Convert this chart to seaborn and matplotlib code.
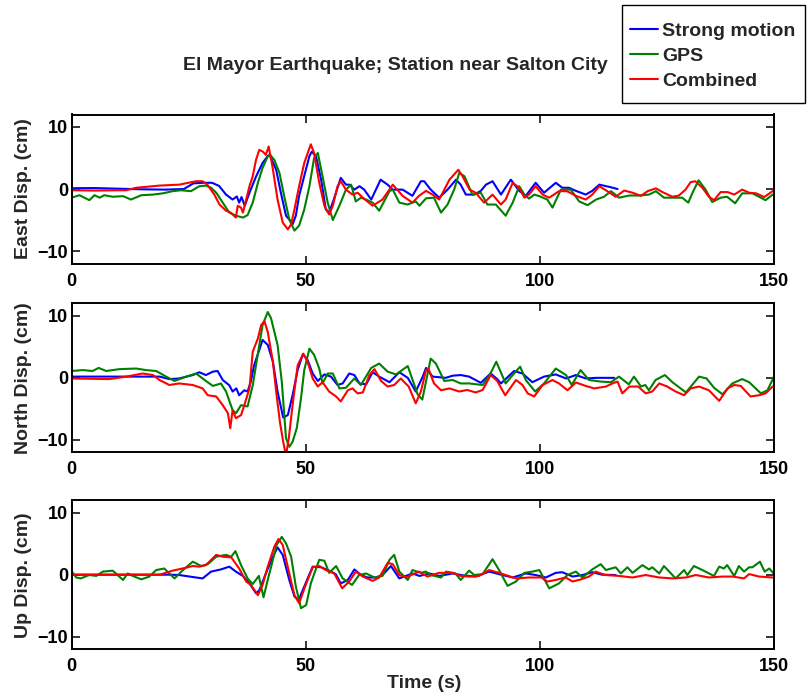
import matplotlib
matplotlib.use("Agg")
import matplotlib.pyplot as plt
from matplotlib.patches import Rectangle
import seaborn as sns
import pandas as pd

# ---------------- data ----------------
# East
east_sm_t = [0,5,10,15,20,24,26,28,30,31.5,33,34.4,35.3,35.8,36.3,37,38,39.4,40.8,41.9,42.3,43.7,44.7,45.8,46.5,47.2,47.9,48.6,49.7,50.8,51.3,52.2,53.3,54.3,55,56,57.5,58.6,59.3,60.4,61.5,62.5,64,66,67.5,68.6,70.7,72.8,74.6,75.3,76.7,78.5,80.3,82.1,83.1,84.2,86,87.4,88.5,89.9,91.7,93.8,95.6,97,99.1,100.9,103.4,104.8,106.2,107.7,109.8,111.2,112.7,114.8,116.6]
east_sm = [0.13,0.15,0.05,-0.05,-0.1,0.0,0.9,1.0,1.0,0.5,-0.9,-1.7,-1.2,-2.2,-1.3,-2.7,-0.6,2.0,4.2,5.3,5.5,3.1,-0.6,-4.3,-4.9,-5.7,-4.3,-1.1,2.1,5.3,6.0,5.3,1.5,-3.3,-3.8,-1.7,1.8,0.7,0.7,-0.1,0.45,-0.1,-1.7,1.5,0.7,-0.1,-0.1,-1.1,1.25,1.25,-0.1,-1.4,-0.1,1.5,0.7,-0.9,-0.9,-0.3,0.7,1.25,-0.9,1.5,-0.3,-1.1,1.0,-0.6,1.0,0.2,0.2,-0.3,-0.9,-0.3,0.7,0.35,0.0]

east_gps_t = [0,1.7,3.8,4.9,6,7,8.8,11,12.7,14.9,17.4,19.5,21.6,23.4,25.5,27.3,28.7,29.8,30.9,32.3,33.7,35.1,36.6,37.6,38.7,39.8,40.8,41.9,42.4,43.3,44.4,45.4,46.5,47.6,48.6,49.7,50.8,51.8,52.6,53.6,54.7,55.8,57.2,58.6,59.7,60.7,61.8,62.9,64.3,65.7,67.9,68.6,70,71.8,73.5,74.3,75.7,77.4,78.9,80.3,81.7,82.8,83.9,85.6,87.4,88.8,90.6,92.7,94.2,95.6,96.7,97.7,98.8,99.9,101.6,102.7,104.5,106.6,108.4,110.2,112,113.7,115.2,116.9,119.1,121.2,123.3,124.8,126.5,128.3,130.4,131.7,132.6,133.9,135.4,136.8,138.6,140,141.7,143.2,145.4,146.8,148.2,149.7]
east_gps = [-1.4,-1.0,-1.8,-1.0,-1.4,-1.0,-1.25,-1.15,-1.7,-1.0,-0.9,-0.7,-0.35,-0.2,-0.35,0.45,0.55,0.2,-0.6,-2.2,-3.8,-4.3,-4.6,-4.2,-2.2,1.0,3.4,5.25,5.5,4.7,2.6,-1.1,-4.9,-6.7,-5.9,-3.3,0.45,5.0,5.8,2.05,-2.2,-5.0,-2.7,-0.1,0.7,-2.0,-1.4,-1.7,-2.2,-3.5,-0.35,-0.1,-2.2,-2.5,-2.0,-2.7,-1.5,-1.4,-3.8,-2.5,-0.1,2.6,2.05,-0.9,-0.6,-2.5,-2.5,-4.3,-2.2,0.45,-0.9,-1.55,-0.9,-1.15,-1.7,-3.0,-0.1,-0.1,-2.0,-2.6,-1.7,-1.25,-0.35,-1.4,-1.05,-1.05,-0.9,-0.35,-1.4,-1.4,-1.4,-2.2,-0.6,1.4,-0.1,-2.1,-1.4,-1.25,-2.3,-0.7,-0.7,-1.25,-1.8,-0.9]

east_cmb_t = [0,5,10,11.7,13.8,18.8,23,26.6,28,29,30.5,31.6,33,34,35.1,35.5,36.2,36.6,37.3,38,38.7,39.4,40.1,40.8,41.5,42.1,42.9,44,45.1,46.2,46.9,47.6,48.6,49.7,51.1,51.8,52.9,54,55,55.8,56.8,57.5,58.6,60,61.1,62.2,64.3,66.4,68.6,70.7,72.8,74.2,75.7,77.1,78.5,80.7,82.6,83.5,85,86.3,88.1,89.9,91.7,92.7,94.2,95.6,96.7,97.7,99.1,100.6,102,104.1,105.8,107.7,109.8,111.2,112.7,114.4,116.2,118,119.8,121.6,123,124.8,126.2,128.3,129.7,131.1,132.2,133.2,134.7,136.1,137.2,138.6,140.1,141.5,143.2,144.7,146.2,147.9,149.7,150]
east_cmb = [-0.2,-0.25,-0.2,-0.2,0.2,0.55,0.7,1.25,1.25,0.7,-0.9,-2.5,-3.5,-3.8,-4.6,-2.7,-3.0,-3.8,-1.7,0.45,2.05,4.7,6.3,6.05,5.5,6.85,3.65,-1.7,-5.4,-6.5,-5.7,-3.3,0.45,4.2,7.2,5.8,1.0,-2.7,-4.1,-2.7,0.45,1.25,-0.1,-0.9,-0.6,-1.4,-2.7,-1.7,0.7,-1.1,-2.2,-1.1,-0.3,-0.9,-1.7,1.5,3.1,2.05,-0.1,-0.6,-2.2,-0.9,-2.5,-1.7,1.0,0.2,-1.4,-0.9,0.45,-0.9,-1.4,-0.35,-0.35,-1.1,-1.7,-0.9,0.45,-0.35,-1.25,-0.25,-0.6,-1.1,-0.35,0.1,-0.5,-1.25,-1.05,-0.1,1.1,1.25,0.2,-1.25,-1.8,-0.5,-0.5,-0.9,-0.1,-0.6,-0.7,-1.3,-0.35,-0.3]

# North
north_sm_t = [0,10,18.8,20.9,23,25.9,27.3,28.7,30.2,31.2,32.3,33.7,34.4,35.2,35.8,36.9,37.6,38.3,39,40.1,40.8,41.9,43,44,45.2,46.2,47.2,48.3,49.4,50.4,51.5,52.6,54,55.4,56.8,57.9,59.3,60.4,61.5,62.9,64.3,65.7,67.9,70,71.8,73.5,75,75.7,77.1,79.9,81.4,83.1,84.9,87.4,89.5,90.9,91.7,94.5,96.3,98.4,100.9,103.4,105.6,107.7,109.8,112,115.9]
north_sm = [0.2,0.2,0.2,-0.2,-0.1,0.45,0.9,0.45,1.0,1.1,-0.35,-1.2,-2.2,-1.7,-2.8,-2.0,-2.2,-0.6,2.05,4.5,6.1,5.3,2.6,-2.2,-6.4,-5.98,-2.8,1.3,3.8,2.9,0.7,-0.5,0.55,0.2,-1.15,-0.9,0.7,0.45,-0.9,-1.05,0.9,0.2,-0.7,0.9,0.0,-2.2,0.2,1.6,0.2,0.0,0.35,0.45,0.2,-0.8,0.7,-0.2,-0.9,1.1,0.7,-0.7,0.2,0.55,-0.1,0.45,-0.1,0.0,0.0]

north_gps_t = [0,2.4,4.5,5.8,7.4,10.2,13.8,15.9,18.1,20.2,22,24.5,26.6,28.7,30.2,31.9,33,34.4,35.1,36.2,37.6,38.7,39.8,40.8,41.9,42.6,44,44.9,45.8,46.5,47.2,48.1,49,49.7,50.8,51.8,52.9,53.6,54.7,55.8,57.2,58.6,60.4,61.8,64,65.7,67.5,69.3,71.8,73.9,74.9,76.7,77.8,79.6,81.4,83.1,84.9,87.8,89.3,90.7,92.7,94.2,95.8,97,99,100.9,103.4,105.6,106.8,108.7,110.5,113,115.2,116.9,119,120.1,121.6,122.5,123.3,124.7,126.7,128.3,131.2,134,135.6,137.2,139,141.1,143.2,144.7,147.2,148.6,150]
north_gps = [1.1,1.25,1.1,1.6,1.1,1.4,1.5,1.25,1.1,0.2,-0.5,0.2,0.7,-0.5,-1.3,-0.9,-2.2,-5.2,-5.7,-4.4,-4.6,-1.2,3.9,8.5,10.6,9.6,5.3,-0.6,-9.7,-11.1,-10.3,-8.1,-3.3,1.25,4.7,3.7,1.5,-0.9,0.7,0.7,-1.7,-1.6,-0.1,-1.15,1.6,2.3,1.0,0.55,1.9,-2.65,-3.5,3.1,2.3,-0.5,-0.35,-0.9,-0.9,-1.15,0.45,2.6,-0.9,0.45,1.8,-0.35,-2.2,-0.9,1.5,0.45,-1.15,1.25,-0.35,-0.6,-0.7,0.2,-1.05,0.2,-1.4,-1.15,-2.0,-0.35,0.45,-0.7,-2.35,0.2,-0.1,-1.6,-2.65,-0.9,-0.2,-0.7,-2.5,-2.0,0.2]

north_cmb_t = [0,8.1,11.7,15.2,17.4,18.8,20.9,23,25.9,28,29.1,30.9,32.3,33.4,33.9,34.4,35.1,36.2,36.9,38,38.7,39.8,40.5,41.2,41.9,43,43.7,44.5,45.2,45.8,46.4,47.2,48.3,49.5,50.4,51.5,52.6,53.6,55,56.5,57.5,59,60,61.1,62.2,63.6,64.7,66.1,67.5,68.9,70.3,72,73.5,74.6,75.7,76.2,77.4,78.9,80.7,82.8,84.5,86.3,87.8,89.5,90.9,92.6,94.9,96.3,97.4,98.8,100.6,102.7,104.1,105.9,107.7,109.8,111.6,114.1,115.5,116.6,117.6,119.1,121,122.6,124,125.5,127.2,129,130.8,132.2,134,136.1,138.3,140.1,141.5,142.9,145,146.8,148.2,149.7]
north_cmb = [-0.1,-0.2,0.2,0.7,0.45,-0.35,-1.15,-0.9,-1.15,-1.7,-2.8,-3.0,-4.4,-5.7,-8.1,-5.2,-6.5,-6.0,-4.4,-1.7,4.2,6.35,8.5,9.1,7.4,2.6,-2.2,-7.1,-10.3,-12.5,-9.7,-4.4,2.05,3.9,2.6,-0.1,-1.4,-0.7,-2.2,-3.0,-3.8,-2.0,-1.7,-2.5,-2.35,0.45,1.4,-0.5,-1.4,-1.15,-0.1,-1.4,-4.1,-2.2,1.25,1.5,-0.9,-2.0,-1.7,-2.2,-1.95,-2.35,-1.95,0.45,-0.5,-2.8,-0.35,-1.15,-2.5,-3.0,-1.15,-0.35,-0.9,-2.0,-0.75,-1.3,-1.7,-1.4,-0.9,-0.6,-2.5,-1.4,-1.4,-2.5,-2.2,-0.9,-1.4,-2.2,-2.8,-1.7,-1.4,-2.0,-3.7,-1.7,-1.15,-1.3,-3.0,-2.8,-2.5,-1.4]

# Up
up_sm_t = [0,10,20.9,23,26.6,28,29.8,31.9,33.7,35.1,36.6,38,39.4,40.1,41.5,43,44,45.1,46.5,47.6,48.5,49.7,51.5,53.3,55,56.4,57.5,59,60.4,61.8,63.2,65,66.4,68.2,70,71.4,72.8,74.3,76.4,78.5,81.4,83.5,86.3,89.2,92,94.2,97,99.1,101.3,103.4,104.8,107,109.1,111.2,113.3,116.2]
up_sm = [0,0,0,-0.05,-0.45,-0.6,0.5,0.85,1.3,0.5,-0.2,-1.4,-3.0,-2.5,0.2,2.9,4.4,3.2,-0.85,-3.5,-4.1,-1.9,1.3,1.2,0.65,0.1,-1.4,-0.85,0.85,-0.05,-0.45,-0.45,-0.05,1.4,-0.6,-0.2,0.2,-0.2,0.2,-0.2,0.2,-0.1,-0.3,0.5,-0.05,-0.45,0.2,-0.05,-0.45,0.3,0.4,-0.3,-0.05,0.4,0.0,-0.05]

up_gps_t = [0,1,2,3.8,5.3,6.7,8.8,11,12,13.1,14.9,16.6,18.1,19.8,20.9,22,23.8,25.9,27.7,29.1,30.9,33,34.1,35,36.2,37.6,38.7,40,41,41.9,43,43.8,44.9,45.8,46.9,47.9,49,50.1,51.1,52.9,54,55,56.5,57.9,59.9,61.4,62.9,64.7,66.4,67.9,68.9,70,71.8,72.8,74.6,75.7,76.7,78.9,80,82,83.1,84.9,86,87.8,89.9,91.3,93.1,94.9,96.7,98.4,99.9,102,104.1,105.9,107.7,109.1,111.2,113,114.1,116.2,117.3,118.7,119.8,121.9,123.3,124,125.5,126.5,129,130.8,131.5,132.9,134.7,137.2,138.3,139.3,140,141.5,142.5,143.6,144.7,145.4,147,148,149,149.9]
up_gps = [0.6,-0.45,-0.6,-0.05,-0.2,0.5,0.65,-0.85,0.2,-0.2,-0.75,-0.3,0.75,1.0,0.2,-0.6,0.75,2.1,1.4,1.7,2.9,3.2,2.9,3.8,1.55,-0.6,-1.5,-0.2,-3.65,-0.85,2.4,4.8,6.1,5.05,2.9,-1.9,-5.4,-4.9,-1.4,2.4,2.25,0.3,1.4,-0.6,-1.65,-0.05,0.2,-0.45,-0.2,2.4,3.2,0.5,-0.85,0.75,0.3,0.5,-0.05,-0.45,0.5,0.2,-0.85,0.65,-0.05,0.1,2.5,0.75,-1.8,-1.1,0.3,0.5,0.75,-2.2,-1.4,-0.05,0.5,-0.45,0.85,1.7,0.75,1.2,0.2,1.2,0.3,1.55,0.85,1.2,0.2,1.4,-0.6,0.75,-0.05,1.4,0.75,-0.2,1.3,1.0,1.55,-0.2,1.4,0.5,1.2,1.2,2.1,0.5,1.0,0.2]

up_cmb_t = [0,10,18.8,21.6,23.7,25.9,27.3,28.7,30.9,32.3,34.1,35.8,37.3,38.3,39.8,40.8,41.9,43.3,44.2,45.1,46.5,47.6,48.6,50,51.5,52.9,54.3,56.1,57.8,59.3,60.7,62.2,64.3,65.7,67.5,68.6,70,71.4,74.2,76,78.5,81.4,83.1,84.9,87,89.2,91.7,94.9,97.7,100.3,101.6,103.4,105.5,107,108.8,110.5,111.9,114,116.9,119.8,122.6,125.5,128.3,131.2,133.3,136.1,139,141.2,143.6,144.7,146.8,149.7]
up_cmb = [0,0,0,0.65,1.0,1.4,1.3,1.55,3.2,2.9,2.8,1.0,-1.1,-1.65,-3.3,-1.65,1.3,4.5,5.75,4.8,0.2,-3.3,-4.6,-1.65,1.2,1.4,0.75,0.2,-2.2,-1.1,0.5,-0.3,-1.0,-0.45,1.9,1.7,-0.05,-0.45,0.5,-0.3,0.3,0.3,-0.2,-0.3,-0.2,0.75,0.2,-0.6,-0.45,-0.45,-1.1,-0.85,-0.45,-1.1,-0.75,-0.3,0.5,-0.05,-0.2,-0.45,-0.05,-0.45,-0.6,-0.45,-0.05,-0.45,-0.3,-0.3,-0.6,0.1,-0.3,-0.45]

series_names = ["Strong motion", "GPS", "Combined"]
series_colors = ["#0000ff", "#008000", "#ff0000"]
panel_labels = ["East Disp. (cm)", "North Disp. (cm)", "Up Disp. (cm)"]
title_text = "El Mayor Earthquake; Station near Salton City"
xlabel_text = "Time (s)"
x_ticks = [0, 50, 100, 150]
y_ticks = [-10, 0, 10]

panels = [
    [(east_sm_t, east_sm), (east_gps_t, east_gps), (east_cmb_t, east_cmb)],
    [(north_sm_t, north_sm), (north_gps_t, north_gps), (north_cmb_t, north_cmb)],
    [(up_sm_t, up_sm), (up_gps_t, up_gps), (up_cmb_t, up_cmb)],
]

# ---------------- plot ----------------
sns.set_style("white")
plt.rcParams["font.family"] = ["Liberation Sans", "DejaVu Sans"]
plt.rcParams["font.weight"] = "bold"

W, H = 811, 694
fig = plt.figure(figsize=(W / 100, H / 100), dpi=100)

left = 71.5 / W
width = (774 - 71.5) / W
tops_bottoms = [(114.5, 263.5), (303.3, 452.4), (500.3, 649.1)]

lines_for_legend = []
for i, (series, ylab) in enumerate(zip(panels, panel_labels)):
    top, bot = tops_bottoms[i]
    ax = fig.add_axes([left, 1 - bot / H, width, (bot - top) / H])
    for (t, v), name, col in zip(series, series_names, series_colors):
        df = pd.DataFrame({"t": t, "v": v})
        sns.lineplot(data=df, x="t", y="v", ax=ax, color=col, linewidth=1.5,
                     estimator=None, sort=False, label=name, legend=False)
    ax.set_xlim(0, 150)
    ax.set_ylim(-12, 12)
    ax.set_xticks(x_ticks)
    ax.set_yticks(y_ticks)
    ax.set_xticklabels([str(x) for x in x_ticks], fontsize=13, fontweight="bold")
    ax.set_yticklabels(["\u221210", "0", "10"], fontsize=13, fontweight="bold")
    ax.tick_params(direction="in", length=6, width=1.1, top=True, right=True,
                   bottom=True, left=True, colors="black")
    ax.tick_params(axis="x", pad=6.5)
    ax.tick_params(axis="y", pad=2.5)
    for s in ax.spines.values():
        s.set_linewidth(1.4)
        s.set_color("black")
    ax.set_ylabel(ylab, fontsize=14, fontweight="bold", labelpad=4)
    ax.set_xlabel("")
    if i == 0:
        lines_for_legend = ax.get_lines()[:3]

fig.text(395 / W, 1 - 65 / H, title_text, ha="center", va="center",
         fontsize=14, fontweight="bold")
fig.text(424 / W, 1 - 683 / H, xlabel_text, ha="center", va="center",
         fontsize=14, fontweight="bold")

# legend box (drawn as a rectangle so its padding matches the reference)
box_l, box_t, box_r, box_b = 622, 5, 805, 103
fig.patches.append(Rectangle((box_l / W, 1 - box_b / H), (box_r - box_l) / W,
                             (box_b - box_t) / H, transform=fig.transFigure,
                             facecolor="white", edgecolor="black", linewidth=1.0,
                             zorder=5))
leg = fig.legend(lines_for_legend, series_names, loc="center left",
                 bbox_to_anchor=(630 / W, 1 - 56 / H), bbox_transform=fig.transFigure,
                 frameon=False, borderaxespad=0, borderpad=0,
                 handlelength=1.45, handletextpad=0.2, labelspacing=0.39,
                 prop={"weight": "bold", "size": 14})
leg.set_zorder(6)
for l in leg.get_lines():
    l.set_linewidth(1.5)

fig.savefig("out.png", dpi=100)
